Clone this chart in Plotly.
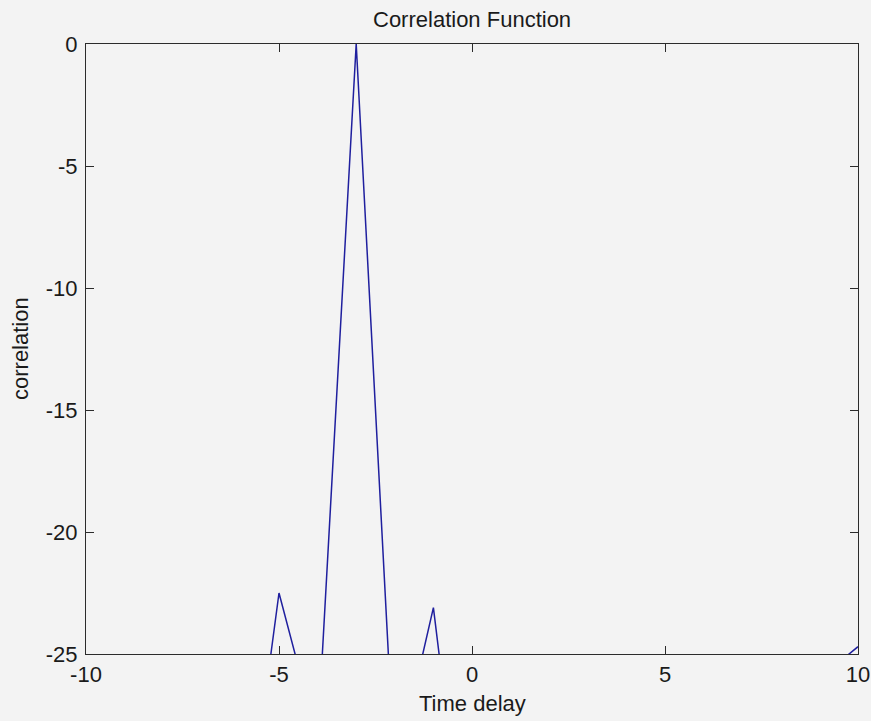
import plotly.graph_objects as go

# Time delay samples (integer lags)
time_delay = [-10, -9, -8, -7, -6, -5, -4, -3, -2, -1, 0, 1, 2, 3, 4, 5, 6, 7, 8, 9, 10]
# Correlation values (values below -25 are clipped in the reference; estimated)
correlation = [-40, -38, -42, -36, -34.4, -22.5, -28.5, 0, -30, -23.1, -36,
               -40, -38, -45, -39, -42, -37, -41, -35, -26, -24.7]

x_tick_vals = [-10, -5, 0, 5, 10]
x_tick_text = ["-10", "-5", "0", "5", "10"]
y_tick_vals = [-25, -20, -15, -10, -5, 0]
y_tick_text = ["-25", "-20", "-15", "-10", "-5", "0"]

FONT = "Liberation Sans, Arial, Helvetica, sans-serif"
BG = "#F3F3F3"
AX = "#2b2b2b"

fig = go.Figure()
fig.add_trace(go.Scatter(x=time_delay, y=correlation, mode="lines",
                         line=dict(color="#1f1f9e", width=1.5),
                         showlegend=False, hoverinfo="skip"))

axis_common = dict(showgrid=False, zeroline=False, showline=True, linecolor=AX,
                   linewidth=1, mirror="allticks", ticks="inside", ticklen=8,
                   tickcolor=AX, tickwidth=1, automargin=False,
                   tickfont=dict(family=FONT, size=22, color="#1a1a1a"))

fig.update_xaxes(range=[-10, 10], tickvals=x_tick_vals, ticktext=x_tick_text,
                 ticklabelstandoff=1, **axis_common)
fig.update_yaxes(range=[-25, 0], tickvals=y_tick_vals, ticktext=y_tick_text,
                 ticklabelstandoff=3, **axis_common)

fig.update_layout(
    width=871, height=721,
    margin=dict(l=86, r=13, t=44, b=67, pad=0, autoexpand=False),
    paper_bgcolor=BG, plot_bgcolor=BG,
    font=dict(family=FONT, size=22, color="#1a1a1a"),
    annotations=[
        dict(text="Correlation Function", xref="paper", yref="paper", x=0.5, y=1,
             yshift=25, xanchor="center", yanchor="middle", showarrow=False,
             font=dict(family=FONT, size=22, color="#1a1a1a")),
        dict(text="Time delay", xref="paper", yref="paper", x=0.5, y=0,
             yshift=-49, xanchor="center", yanchor="middle", showarrow=False,
             font=dict(family=FONT, size=22, color="#1a1a1a")),
        dict(text="correlation", xref="paper", yref="paper", x=0, y=0.5,
             xshift=-66, textangle=-90, xanchor="center", yanchor="middle",
             showarrow=False, font=dict(family=FONT, size=22, color="#1a1a1a")),
    ],
)

fig.write_html(
    "out.html",
    config={"displayModeBar": False},
    post_script=(
        "document.documentElement.style.margin='0';"
        "document.documentElement.style.overflow='hidden';"
        "document.body.style.margin='0';"
        "document.body.style.padding='0';"
        "document.body.style.overflow='hidden';"
        "document.body.style.background='#F3F3F3';"
    ),
)
